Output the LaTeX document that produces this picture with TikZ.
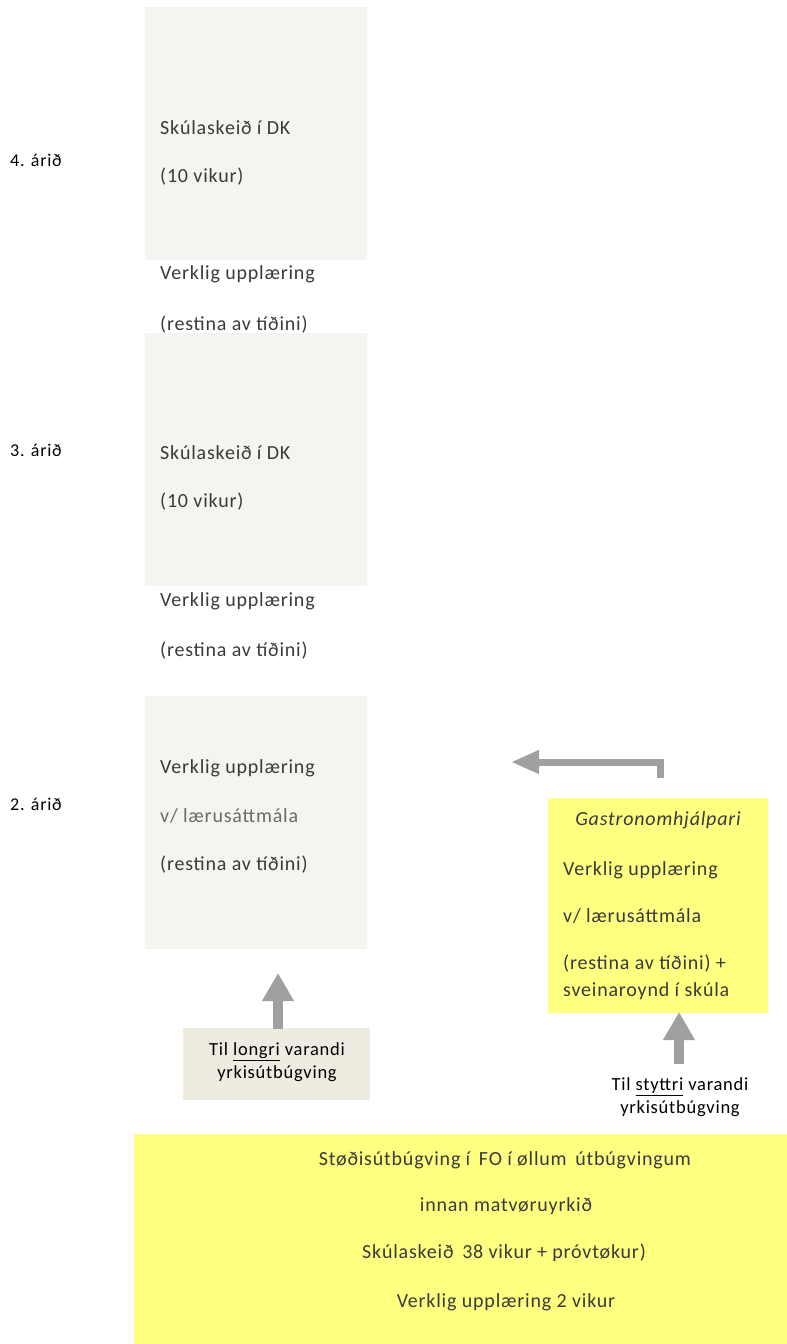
\documentclass[tikz,border=0pt]{standalone}
\usepackage{fontspec}
\setmainfont{Carlito}
\newfontfamily\widefont[LetterSpace=4]{Carlito}
\usetikzlibrary{arrows.meta}
\definecolor{boxgray}{HTML}{F5F4F0}
\definecolor{tagbg}{HTML}{EEECE1}
\definecolor{yel}{HTML}{FFFF80}
\definecolor{arrgray}{HTML}{A0A0A0}
\definecolor{txt}{HTML}{3A3A3A}
\definecolor{lighttxt}{HTML}{6A6A6A}
\tikzset{
  yearbox/.style={fill=boxgray, draw=none, minimum width=222pt, minimum height=253pt, inner sep=0pt, anchor=north west},
  lbl/.style={font=\widefont\fontsize{20}{24}\selectfont, text=txt, anchor=west, inner sep=0pt},
  yr/.style={font=\widefont\fontsize{18}{22}\selectfont, text=black, anchor=west, inner sep=0pt},
  ctr/.style={font=\widefont\fontsize{20}{24}\selectfont, text=txt, anchor=center, inner sep=0pt},
  tag/.style={font=\widefont\fontsize{18.5}{23}\selectfont, text=black, anchor=center, align=center, inner sep=0pt},
  bigarrow/.style={draw=arrgray, line width=10pt, -{Triangle[width=30pt,length=28pt]}},
  elbowarrow/.style={draw=arrgray, line width=7pt, -{Triangle[width=22pt,length=28pt]}},
}
\begin{document}
\begin{tikzpicture}[x=1pt,y=-1pt]
\useasboundingbox (0,0) rectangle (787,1344);
% year boxes
\node[yearbox] (b4) at (145,7) {};
\node[yearbox] (b3) at (145,333) {};
\node[yearbox] (b2) at (145,696) {};
% year labels
\node[yr] (y4) at (10,160) {4. árið};
\node[yr] (y3) at (10,450) {3. árið};
\node[yr] (y2) at (10,804) {2. árið};
% 4th year texts
\node[lbl] (t4a) at (160,128) {Skúlaskeið í DK};
\node[lbl] (t4b) at (160,177) {(10 vikur)};
\node[lbl] (t4c) at (160,274) {Verklig upplæring};
\node[lbl] (t4d) at (160,325) {(restina av tíðini)};
% 3rd year texts
\node[lbl] (t3a) at (160,453) {Skúlaskeið í DK};
\node[lbl] (t3b) at (160,502) {(10 vikur)};
\node[lbl] (t3c) at (160,601) {Verklig upplæring};
\node[lbl] (t3d) at (160,651) {(restina av tíðini)};
% 2nd year texts
\node[lbl] (t2a) at (160,768) {Verklig upplæring};
\node[lbl, text=lighttxt] (t2b) at (160,816) {v/ lærusáttmála};
\node[lbl] (t2c) at (160,865) {(restina av tíðini)};
% longri box
\node[fill=tagbg, minimum width=187pt, minimum height=72pt, inner sep=0pt, anchor=north west] (lb) at (183,1028) {};
\node[tag] (lbt) at (277,1062) {Til \underline{longri} varandi\\yrkisútbúgving};
% gastro box
\node[fill=yel, minimum width=220pt, minimum height=215pt, inner sep=0pt, anchor=north west] (gb) at (548,798) {};
\node[ctr, font=\widefont\fontsize{20}{24}\selectfont\itshape] (g0) at (658,820) {Gastronomhjálpari};
\node[lbl] (g1) at (563,870) {Verklig upplæring};
\node[lbl] (g2) at (563,916) {v/ lærusáttmála};
\node[lbl] (g3) at (563,964) {(restina av tíðini) +};
\node[lbl] (g4) at (563,991) {sveinaroynd í skúla};
% styttri label
\node[tag] (st) at (680,1097) {Til \underline{styttri} varandi\\yrkisútbúgving};
% bottom box
\node[fill=yel, minimum width=653pt, minimum height=210pt, inner sep=0pt, anchor=north west] (bb) at (134,1134) {};
\node[ctr] (bb1) at (505,1160) {Støðisútbúgving í\, FO í øllum\, útbúgvingum};
\node[ctr] (bb2) at (506,1206) {innan matvøruyrkið};
\node[ctr] (bb3) at (504,1253) {Skúlaskeið\, 38 vikur + próvtøkur)};
\node[ctr] (bb4) at (506,1302) {Verklig upplæring 2 vikur};
% arrows
\coordinate (a1s) at (278,1029);
\coordinate (a1e) at (278,973);
\draw[bigarrow] (a1s) -- (a1e);
\coordinate (a2s) at (679,1064);
\coordinate (a2e) at (679,1012);
\draw[bigarrow] (a2s) -- (a2e);
\coordinate (a3s) at (660,778);
\coordinate (a3e) at (511,762);
\draw[elbowarrow] (a3s) |- (a3e);
\end{tikzpicture}
\end{document}
